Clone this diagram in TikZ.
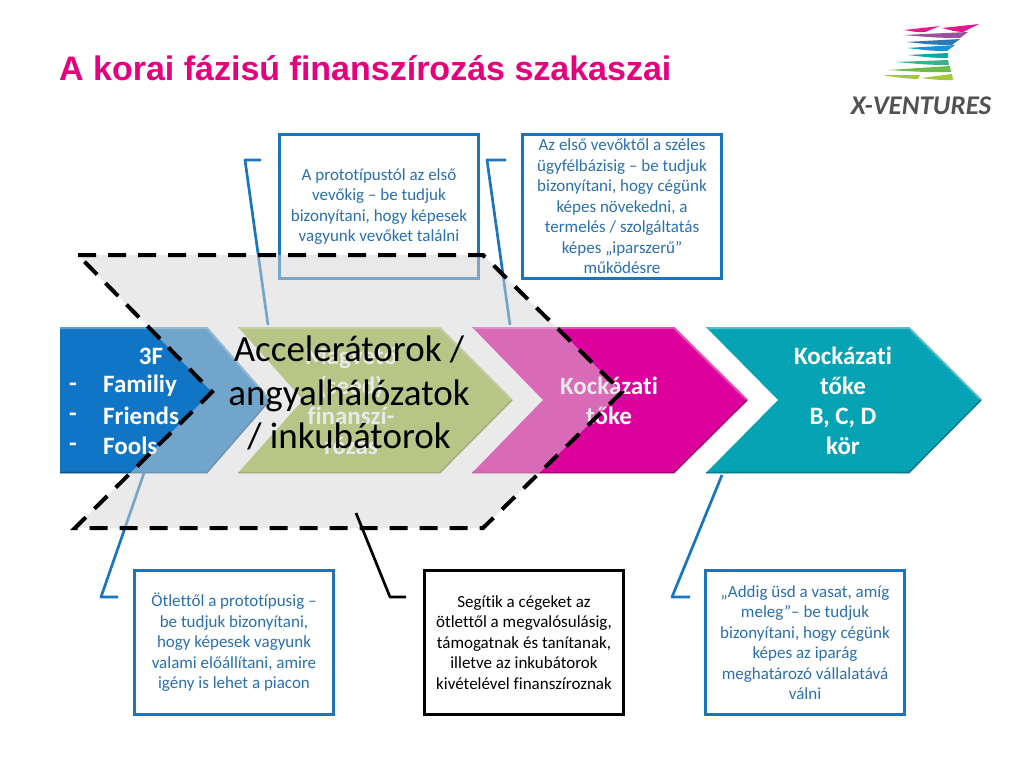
\documentclass[tikz,border=0pt]{standalone}
\usepackage{fontspec}
\setmainfont[Ligatures={TeX,NoCommon}]{Carlito}
\newfontfamily\titlefont{Liberation Sans}
\usetikzlibrary{calc,positioning}
\definecolor{xblue}{HTML}{1B75BC}
\definecolor{xtext}{HTML}{2A70B0}
\definecolor{xtitle}{HTML}{E5007D}
\definecolor{xcblue}{HTML}{0F75C4}
\definecolor{xgreen}{HTML}{99B739}
\definecolor{xmagenta}{HTML}{DC009C}
\definecolor{xteal}{HTML}{06A3B4}
\definecolor{ribpink}{HTML}{E6178C}
\definecolor{ribpurple}{HTML}{9A519F}
\definecolor{ribblue}{HTML}{2F78B8}
\definecolor{ribsky}{HTML}{1496D4}
\definecolor{ribteal}{HTML}{12A7A0}
\definecolor{ribsea}{HTML}{3BB28C}
\definecolor{ribgreen}{HTML}{6DBB4A}
\definecolor{riblime}{HTML}{A3C93A}
\begin{document}
\begin{tikzpicture}[x=1pt,y=-1pt,
    infobox/.style={draw=xblue,line width=3pt,fill=white,text=xtext,minimum width=199pt,minimum height=144pt,align=center,font=\fontsize{17}{20.5}\selectfont},
    blackbox/.style={infobox,draw=black,text=black},
    lbl/.style={text=white,align=center,font=\bfseries\fontsize{25}{30}\selectfont},
    callout/.style={draw=xblue,line width=2.7pt,line join=round},
    over/.style={fill=black!16.5,fill opacity=0.5},
    dashline/.style={draw=black,line width=4pt,dash pattern=on 18pt off 12pt}]
  \useasboundingbox (0,0) rectangle (1024,768);

  % title and logo
  \node[anchor=west,inner sep=0pt,text=xtitle,font=\titlefont\bfseries\fontsize{34}{36}\selectfont] (title) at (59,68) {A korai fázisú finanszírozás szakaszai};
  \foreach \ax/\ay/\bx/\by/\cx/\cy/\col in {904/30/940/26/925/32/ribpink,942/28/979/24/963/32/ribpink,903/35/968/32/960/38/ribpurple,906/42/960/39/952/45/ribblue,907/48/955/45/947/51/ribsky,908/55/948/53/948/58/ribteal,896/62/948/60/949/65/ribsea,888/70/950/66/951/72/ribgreen,882/75/920/75/918/79/riblime,921/78/952/74/953/80/riblime}
    \fill[\col] (\ax,\ay) .. controls ($(\ax,\ay)!0.5!(\bx,\by)$) .. (\bx,\by) -- (\cx,\cy) .. controls ($(\ax,\ay)!0.6!(\cx,\cy)+(0,1)$) .. cycle;
  \node[anchor=center,inner sep=0pt,text=black!68,font=\bfseries\itshape\fontsize{27}{30}\selectfont] (logo) at (921,106) {X-VENTURES};

  % chevrons
  \fill[xcblue] (60,327) -- (207,327) -- (270,400) -- (207,473) -- (60,473) -- cycle;
  \draw[xcblue!70!white,line width=2pt] (60,328) -- (207,328) -- (270,400);
  \draw[xcblue!70!black,line width=1.5pt] (270,400) -- (207,472.5) -- (60,472.5);
  \fill[xgreen] (238,327) -- (440,327) -- (512,400) -- (440,473) -- (238,473) -- (303,400) -- cycle;
  \draw[xgreen!75!white,line width=2pt] (240,328) -- (440,328) -- (512,400);
  \draw[xgreen!75!black,line width=1.5pt] (512,400) -- (440,472.5) -- (238,472.5);
  \fill[xmagenta] (472,327) -- (674,327) -- (747,400) -- (674,473) -- (472,473) -- (543,400) -- cycle;
  \draw[xmagenta!70!white,line width=2pt] (474,328) -- (674,328) -- (747,400);
  \draw[xmagenta!75!black,line width=1.5pt] (747,400) -- (674,472.5) -- (472,472.5);
  \fill[xteal] (706,327) -- (909,327) -- (981,400) -- (909,473) -- (706,473) -- (778,400) -- cycle;
  \draw[xteal!70!white,line width=2pt] (708,328) -- (909,328) -- (981,400);
  \draw[xteal!75!black,line width=1.5pt] (981,400) -- (909,472.5) -- (706,472.5);

  \node[lbl] (seedt) at (351,401) {Magvető\\(seed)\\finanszí-\\rózás};
  \node[lbl] (bft) at (151,356) {3F};
  \node[lbl,anchor=west,inner sep=0pt] (fam) at (103,386) {Familiy};
  \node[lbl,anchor=west,inner sep=0pt] (fri) at (103,416) {Friends};
  \node[lbl,anchor=west,inner sep=0pt] (foo) at (103,446) {Fools};
  \node[lbl,inner sep=0pt] (d1) at (73,387) {-};
  \node[lbl,inner sep=0pt] (d2) at (73,417) {-};
  \node[lbl,inner sep=0pt] (d3) at (73,447) {-};
  \node[lbl] (riskt) at (609,401) {Kockázati\\tőke};
  \node[lbl] (rounds) at (843,401) {Kockázati\\tőke\\B, C, D\\kör};

  % boxes
  \node[infobox] (protobox) at (379,206.5) {A prototípustól az első\\vevőkig -- be tudjuk\\bizonyítani, hogy képesek\\vagyunk vevőket találni};
  \coordinate (p1) at (261,160);
  \coordinate (p2) at (245,160);
  \coordinate (p3) at (268,325);
  \draw[callout] (p1) -- (p2) -- (p3);
  \coordinate (q1) at (506,160);
  \coordinate (q2) at (487,160);
  \coordinate (q3) at (510,325);
  \draw[callout] (q1) -- (q2) -- (q3);
  \coordinate (r1) at (118,597);
  \coordinate (r2) at (101,597);
  \coordinate (r3) at (144,473);
  \draw[callout] (r1) -- (r2) -- (r3);

  % grey area
  \path[over] (78,255) -- (483,255) -- (622,392) -- (483,528) -- (75,528) -- (212,392) -- cycle;
  \draw[dashline] (78,255) -- (483,255) -- (622,392) -- (483,528) -- (75,528) -- (212,392) -- (78,255);

  \node[infobox] (growbox) at (622,206.5) {Az első vevőktől a széles\\ügyfélbázisig -- be tudjuk\\bizonyítani, hogy cégünk\\képes növekedni, a\\termelés / szolgáltatás\\képes „iparszerű”\\működésre};
  \node[infobox] (ideabox) at (234,642.5) {Ötlettől a prototípusig --\\be tudjuk bizonyítani,\\hogy képesek vagyunk\\valami előállítani, amire\\igény is lehet a piacon};
  \node[blackbox] (accbox) at (524,642.5) {Segítik a cégeket az\\ötlettől a megvalósulásig,\\támogatnak és tanítanak,\\illetve az inkubátorok\\kivételével finanszíroznak};
  \node[infobox] (marketbox) at (805,642.5) {„Addig üsd a vasat, amíg\\meleg”-- be tudjuk\\bizonyítani, hogy cégünk\\képes az iparág\\meghatározó vállalatává\\válni};
  \coordinate (s1) at (406,597);
  \coordinate (s2) at (390,597);
  \coordinate (s3) at (356,513);
  \draw[callout,draw=black] (s1) -- (s2) -- (s3);
  \coordinate (t1) at (690,597);
  \coordinate (t2) at (672,597);
  \coordinate (t3) at (722,475);
  \draw[callout] (t1) -- (t2) -- (t3);

  \node[align=center,font=\fontsize{37}{43.5}\selectfont] (acctext) at (349,393) {Accelerátorok /\\angyalhálózatok\\/ inkubátorok};
\end{tikzpicture}
\end{document}
